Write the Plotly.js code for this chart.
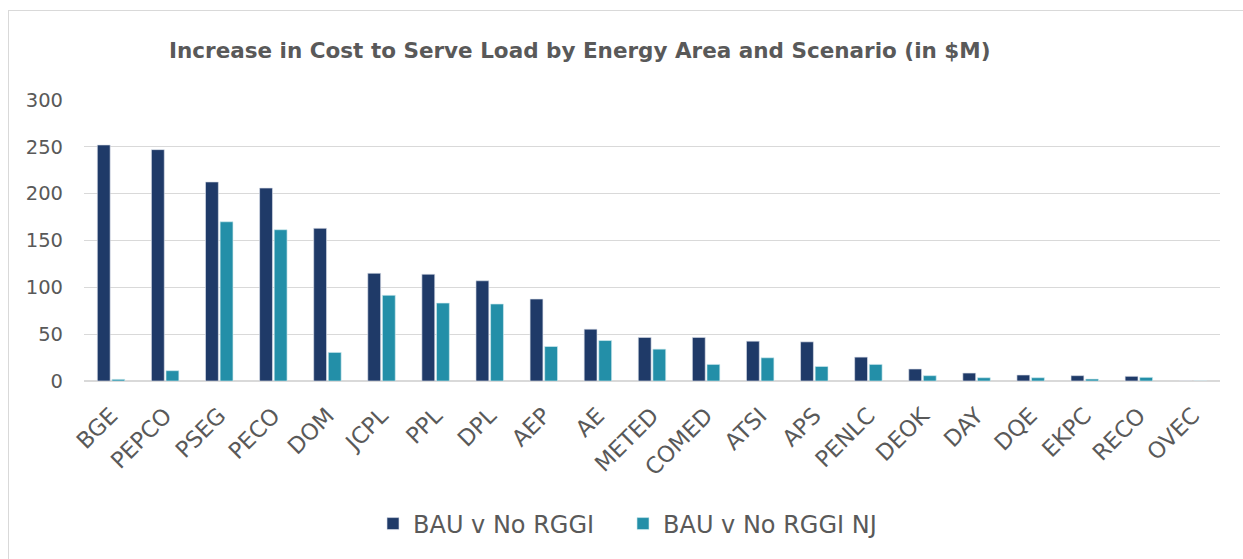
<!DOCTYPE html>
<html>
<head>
<meta charset="utf-8">
<script src="https://cdn.plot.ly/plotly-3.0.1.min.js"></script>
<style>
html,body{margin:0;padding:0;background:#fff;}
#frame{position:absolute;left:8px;top:10px;width:1250px;height:560px;border:1px solid #d9d9d9;box-sizing:border-box;}
#chart{position:absolute;left:0;top:0;width:1243px;height:559px;}
</style>
</head>
<body>
<div id="frame"></div>
<div id="chart"></div>
<script>
const areas = ["BGE","PEPCO","PSEG","PECO","DOM","JCPL","PPL","DPL","AEP","AE","METED","COMED","ATSI","APS","PENLC","DEOK","DAY","DQE","EKPC","RECO","OVEC"];
const bauNoRggi = [252,247,212.5,206,163,115,114,107,87.5,55.3,46.5,46.5,42.5,41.8,25.5,12.8,8.5,6.4,5.7,5.0,0];
const bauNoRggiNJ = [1.8,11,170,161.5,30.5,91.5,83.2,82.2,36.8,43.2,34,17.7,24.8,15.5,17.7,5.7,3.5,3.5,2.1,3.9,0];
const seriesNames = ["BAU v No RGGI","BAU v No RGGI NJ"];
const yTicks = [0,50,100,150,200,250,300];

const txt = '#595959';
const fontFam = 'DejaVu Sans, Liberation Sans, Arial, sans-serif';
const plotL = 84, plotW = 1243 - 84 - 23;
const legY = -(525-381.5)/282;

const data = [
  {type:'bar', name:seriesNames[0], x:areas, y:bauNoRggi, legend:'legend',
   marker:{color:'#1F3A68', line:{color:'rgba(220,225,235,0.8)', width:0.8}}, hoverinfo:'x+y'},
  {type:'bar', name:seriesNames[1], x:areas, y:bauNoRggiNJ, legend:'legend2',
   marker:{color:'#238FA8', line:{color:'rgba(210,235,240,0.8)', width:0.8}}, hoverinfo:'x+y'}
];

const legendBase = {orientation:'h', yanchor:'middle', y:legY, xanchor:'left', xref:'paper',
  font:{family:fontFam, size:24, color:txt}, itemwidth:30, bgcolor:'rgba(0,0,0,0)'};

const layout = {
  width:1243, height:559,
  paper_bgcolor:'rgba(0,0,0,0)', plot_bgcolor:'rgba(0,0,0,0)',
  margin:{l:plotL, r:23, t:99.5, b:177.5, autoexpand:false},
  title:{text:'<b>Increase in Cost to Serve Load by Energy Area and Scenario (in $M)</b>',
    font:{family:fontFam, size:21.5, color:txt}, x:169/1243, xanchor:'left', xref:'container',
    y:1-50/559, yanchor:'middle', yref:'container'},
  barmode:'group', bargap:0.46, bargroupgap:0.12,
  xaxis:{type:'category', tickangle:-45, tickfont:{family:fontFam, size:22.5, color:txt},
    showgrid:false, showline:false, ticks:'', zeroline:false, automargin:false, ticklabelstandoff:16},
  yaxis:{range:[0,300], tickvals:yTicks, ticktext:yTicks.map(String),
    tickfont:{family:fontFam, size:19.5, color:txt}, showgrid:true, gridcolor:'#d9d9d9', gridwidth:1.2,
    zeroline:true, zerolinecolor:'#d9d9d9', zerolinewidth:2, showline:false, ticks:'', ticklen:0,
    automargin:false, ticklabelstandoff:20},
  showlegend:true,
  legend:Object.assign({}, legendBase, {x:(389-16-plotL)/plotW}),
  legend2:Object.assign({}, legendBase, {x:(639-16-plotL)/plotW}),
  font:{family:fontFam, color:txt}
};

Plotly.newPlot('chart', data, layout, {displayModeBar:false, staticPlot:true});
</script>
</body>
</html>
